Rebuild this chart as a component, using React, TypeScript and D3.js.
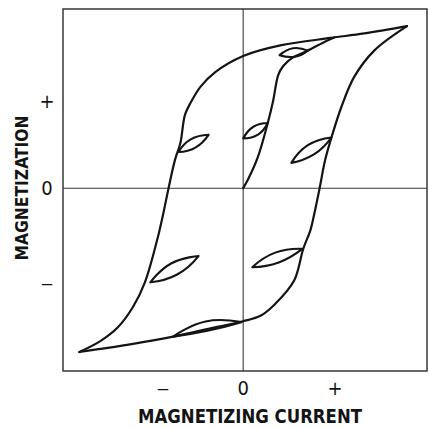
import { useRef, useEffect } from 'react';
import * as d3 from 'd3';

const W = 429;
const H = 428;
const MARGIN = { top: 9, right: 2, bottom: 57, left: 63 };

// [current, magnetization] in arbitrary units
const descendingBranch: [number, number][] = [
  [1.80, 1.79], [1.33, 1.71], [0.96, 1.66], [0.42, 1.58], [0.0, 1.46],
  [-0.31, 1.28], [-0.47, 1.12], [-0.58, 0.94], [-0.64, 0.81], [-0.69, 0.50],
  [-0.75, 0.31], [-0.82, 0.0], [-0.88, -0.29], [-0.95, -0.59], [-1.08, -1.04],
  [-1.21, -1.31], [-1.38, -1.54], [-1.57, -1.69], [-1.80, -1.81],
];
const ascendingBranch: [number, number][] = [
  [-1.80, -1.81], [-1.21, -1.72], [-0.77, -1.64], [-0.32, -1.54], [0.0, -1.47],
  [0.19, -1.41], [0.34, -1.29], [0.56, -1.02], [0.66, -0.67], [0.74, -0.46],
  [0.78, -0.29], [0.84, 0.0], [0.90, 0.31], [0.97, 0.56], [1.08, 0.90],
  [1.22, 1.23], [1.44, 1.52], [1.80, 1.79],
];
const initialCurve: [number, number][] = [
  [0.0, 0.0], [0.05, 0.09], [0.16, 0.34], [0.27, 0.72], [0.33, 0.97],
  [0.385, 1.25], [0.44, 1.35], [0.54, 1.44], [0.70, 1.515], [0.92, 1.63], [1.0, 1.665],
];

// minor loops: anchor on the main curve, upper mid, tip, lower mid
const minorAnchors: [number, number][] = [
  [0.71, 1.52], [0.27, 0.72], [0.97, 0.56], [-0.71, 0.40], [-1.02, -1.04], [-0.02, -1.48], [0.65, -0.67],
];
const minorUpper: [number, number][] = [
  [0.547, 1.547], [0.112, 0.679], [0.711, 0.475], [-0.577, 0.539], [-0.792, -0.832], [-0.413, -1.472], [0.352, -0.712],
];
const minorTips: [number, number][] = [
  [0.40, 1.47], [0.0, 0.55], [0.53, 0.28], [-0.38, 0.59], [-0.49, -0.75], [-0.77, -1.64], [0.10, -0.873],
];
const minorLower: [number, number][] = [
  [0.566, 1.453], [0.163, 0.592], [0.777, 0.373], [-0.525, 0.449], [-0.726, -0.954], [-0.392, -1.575], [0.39, -0.82],
];

const xTicks = [-0.88, 0, 1.01];
const xTickLabels = ['\u2013', '0', '+'];
const yTicks = [0.97, 0, -1.05];
const yTickLabels = ['+', '0', '\u2013'];

const FONT = '"Liberation Sans Narrow", "DejaVu Sans Condensed", "Liberation Sans", Arial, sans-serif';
const INK = '#141414';

export default function App() {
  const svgRef = useRef<SVGSVGElement>(null);

  useEffect(() => {
    if (!svgRef.current) return;
    const svg = d3.select(svgRef.current);
    svg.selectAll('*').remove();

    const x = d3.scaleLinear().domain([-1.98, 2.02]).range([MARGIN.left, W - MARGIN.right]);
    const y = d3.scaleLinear().domain([-2.02, 1.98]).range([H - MARGIN.bottom, MARGIN.top]);

    const line = d3.line<[number, number]>()
      .x(d => x(d[0])).y(d => y(d[1]))
      .curve(d3.curveCatmullRom.alpha(0.5));
    // fuller leaf shape for the small loops
    const leaf = d3.line<[number, number]>()
      .x(d => x(d[0])).y(d => y(d[1]))
      .curve(d3.curveCardinal.tension(-0.45));

    // frame
    svg.append('rect')
      .attr('x', x(-1.98)).attr('y', y(1.98))
      .attr('width', x(2.02) - x(-1.98)).attr('height', y(-2.02) - y(1.98))
      .attr('fill', 'none').attr('stroke', '#2a2a2a').attr('stroke-width', 1.4);

    // zero lines
    svg.append('line')
      .attr('x1', x(0)).attr('x2', x(0)).attr('y1', y(1.98)).attr('y2', y(-2.02))
      .attr('stroke', '#3a3a3a').attr('stroke-width', 1.1);
    svg.append('line')
      .attr('x1', x(-1.98)).attr('x2', x(2.02)).attr('y1', y(0)).attr('y2', y(0))
      .attr('stroke', '#3a3a3a').attr('stroke-width', 1.1);

    const curves = svg.append('g')
      .attr('fill', 'none').attr('stroke', INK).attr('stroke-width', 2.2)
      .attr('stroke-linejoin', 'round').attr('stroke-linecap', 'round');

    [descendingBranch, ascendingBranch, initialCurve].forEach(c => {
      curves.append('path').attr('d', line(c));
    });

    minorAnchors.forEach((a, i) => {
      const up = leaf([a, minorUpper[i], minorTips[i]]);
      const lo = leaf([minorTips[i], minorLower[i], a]);
      curves.append('path').attr('d', `${up}${lo}`).attr('stroke-width', 2.1);
    });

    const tickLabel = (sel: d3.Selection<SVGTextElement, unknown, null, undefined>, label: string) => {
      sel.attr('text-anchor', 'middle')
        .attr('fill', INK).style('font-family', FONT).style('font-size', '20px')
        .text(label);
      if (label === '\u2013') sel.attr('textLength', 13).attr('lengthAdjust', 'spacingAndGlyphs');
    };

    // tick labels
    xTicks.forEach((t, i) => {
      tickLabel(svg.append('text').attr('x', x(t)).attr('y', 395), xTickLabels[i]);
    });
    yTicks.forEach((t, i) => {
      tickLabel(svg.append('text').attr('x', 47).attr('y', y(t)).attr('dy', '0.36em'), yTickLabels[i]);
    });

    // axis titles
    svg.append('text')
      .attr('x', 250).attr('y', 423)
      .attr('text-anchor', 'middle')
      .attr('textLength', 224).attr('lengthAdjust', 'spacingAndGlyphs')
      .attr('fill', INK).style('font-family', FONT).style('font-size', '20px').style('font-weight', 'bold')
      .text('MAGNETIZING CURRENT');
    svg.append('text')
      .attr('transform', `translate(28,${188}) rotate(-90)`)
      .attr('text-anchor', 'middle')
      .attr('textLength', 145).attr('lengthAdjust', 'spacingAndGlyphs')
      .attr('fill', INK).style('font-family', FONT).style('font-size', '18px').style('font-weight', 'bold')
      .text('MAGNETIZATION');
  }, []);

  return (
    <svg
      ref={svgRef}
      width={W}
      height={H}
      style={{ position: 'fixed', left: 0, top: 0, background: '#fff' }}
      role="img"
      aria-label="Hysteresis loop: magnetization versus magnetizing current with minor loops"
    />
  );
}
